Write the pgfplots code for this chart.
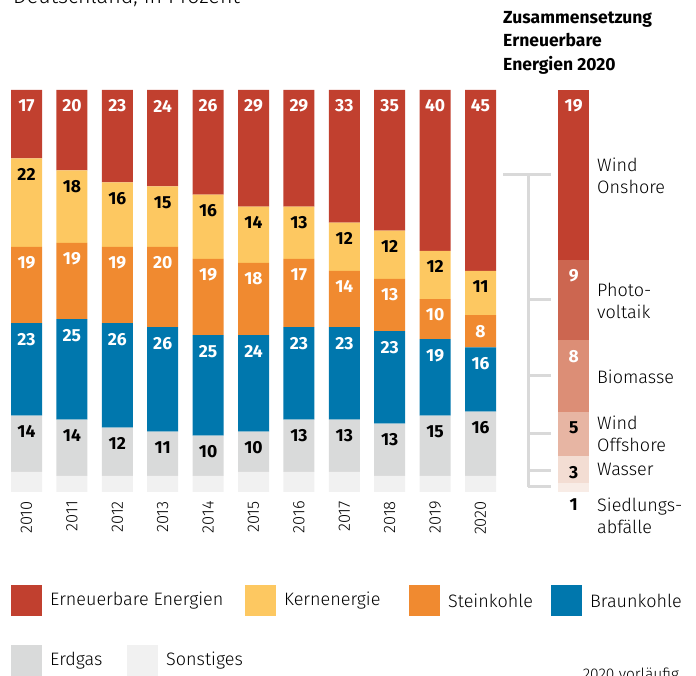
\documentclass[border=0pt]{standalone}
\usepackage{pgfplots}
\pgfplotsset{compat=1.18}
\usepackage{pgfplotstable}
\usepackage{fontspec}
\setmainfont{Fira Sans}[UprightFont=* Light, BoldFont=* Bold]
\definecolor{cee}{HTML}{C1402F}
\definecolor{ckern}{HTML}{FDC861}
\definecolor{cstein}{HTML}{F08A30}
\definecolor{cbraun}{HTML}{0077AD}
\definecolor{cgas}{HTML}{D9DADA}
\definecolor{csonst}{HTML}{F1F1F1}
\definecolor{rA}{HTML}{C1402F}
\definecolor{rB}{HTML}{CC6650}
\definecolor{rC}{HTML}{DC8E76}
\definecolor{rD}{HTML}{E7B5A3}
\definecolor{rE}{HTML}{F3DDD3}
\definecolor{rF}{HTML}{F8ECE6}
\definecolor{brk}{HTML}{D9D9D9}

\pgfplotstableread{
x ee kern stein braun erdgas sonst
0 17 22 19 23 14 5
1 20 18 19 25 14 4
2 23 16 19 26 12 4
3 24 15 20 26 11 4
4 26 16 19 25 10 4
5 29 14 18 24 10 5
6 29 13 17 23 13 5
7 33 12 14 23 13 5
8 35 12 13 23 13 4
9 40 12 10 19 15 4
10 45 11 8 16 16 4
}\mix

\pgfplotstableread{
x onshore pv bio offshore wasser abfall
0 19 9 8 5 3 1
}\ren

\newcommand{\lblfont}{\fontsize{17.5}{17.5}\selectfont\bfseries}
\newcommand{\txtfont}{\fontsize{18}{22}\selectfont}

\begin{document}
\begin{tikzpicture}[x=1pt,y=1pt]
\path[use as bounding box] (0,0) rectangle (696,675);
\clip (0,0) rectangle (696,675);

\pgfplotsset{
  barbase/.style={
    scale only axis, anchor=south west,
    height=402pt, ymin=0,
    ybar stacked,
    bar width=31pt,
    axis line style={draw=none},
    major tick length=0pt,
    ytick=\empty,
    point meta=explicit,
    /pgf/number format/assume math mode=true,
    nodes near coords align={anchor=center},
    every node near coord/.append style={font=\lblfont, inner sep=0pt},
    clip=false,
  },
  lblA/.style={nodes near coords,
    visualization depends on={rawy \as \rawy},
    every node near coord/.append style={text=#1, anchor=center, yshift={\rawy*2.01-16}}},
  lblB/.style={nodes near coords,
    visualization depends on={rawy \as \rawy},
    every node near coord/.append style={text=#1, anchor=center, yshift={\rawy*4.4667-16}}},
}

\begin{axis}[barbase,
  at={(3.8pt,183pt)}, width=499.4pt,
  xmin=-0.5, xmax=10.5, ymax=100,
  xtick={0,...,10},
  xticklabels={2010,2011,2012,2013,2014,2015,2016,2017,2018,2019,2020},
  xticklabel style={rotate=90, anchor=east, font=\fontsize{16.5}{16.5}\selectfont, inner ysep=0pt, inner xsep=9pt},
]
\addplot[fill=csonst, draw=none] table[x=x, y=sonst, meta=sonst] {\mix};
\addplot[fill=cgas, draw=none, lblA=black] table[x=x, y=erdgas, meta=erdgas] {\mix};
\addplot[fill=cbraun, draw=none, lblA=white] table[x=x, y=braun, meta=braun] {\mix};
\addplot[fill=cstein, draw=none, lblA=white] table[x=x, y=stein, meta=stein] {\mix};
\addplot[fill=ckern, draw=none, lblA=black] table[x=x, y=kern, meta=kern] {\mix};
\addplot[fill=cee, draw=none, lblA=white] table[x=x, y=ee, meta=ee] {\mix};
\end{axis}

\begin{axis}[barbase,
  at={(551pt,183pt)}, width=45.4pt,
  xmin=-0.5, xmax=0.5, ymax=45,
  xtick=\empty,
]
\addplot[fill=rF, draw=none, nodes near coords, every node near coord/.append style={text=black, anchor=center, yshift=-17.5}] table[x=x, y=abfall, meta=abfall] {\ren};
\addplot[fill=rE, draw=none, lblB=black] table[x=x, y=wasser, meta=wasser] {\ren};
\addplot[fill=rD, draw=none, lblB=black] table[x=x, y=offshore, meta=offshore] {\ren};
\addplot[fill=rC, draw=none, lblB=white] table[x=x, y=bio, meta=bio] {\ren};
\addplot[fill=rB, draw=none, lblB=white] table[x=x, y=pv, meta=pv] {\ren};
\addplot[fill=rA, draw=none, lblB=white] table[x=x, y=onshore, meta=onshore] {\ren};
\end{axis}

% bracket
\draw[brk, line width=3pt] (528,675-175) -- (528,675-487);
\draw[brk, line width=3pt] (503,675-175) -- (551,675-175);
\foreach \yy in {300,376,434,471,487} {\draw[brk, line width=3pt] (528,675-\yy) -- (551,675-\yy);}

% category names
\node[anchor=west, align=left, font=\txtfont, inner sep=0pt] at (597,675-176) {Wind\\Onshore};
\node[anchor=west, align=left, font=\txtfont, inner sep=0pt] at (597,675-301) {Photo-\\voltaik};
\node[anchor=west, align=left, font=\txtfont, inner sep=0pt] at (597,675-377) {Biomasse};
\node[anchor=west, align=left, font=\txtfont, inner sep=0pt] at (597,675-434) {Wind\\Offshore};
\node[anchor=west, align=left, font=\txtfont, inner sep=0pt] at (597,675-469) {Wasser};
\node[anchor=west, align=left, font=\txtfont, inner sep=0pt] at (597,675-516) {Siedlungs-\\abf\"alle};

% headers
\node[anchor=base west, font=\fontsize{21.5}{21.5}\selectfont, inner sep=0pt] at (13,671) {Deutschland, in Prozent};
\node[anchor=north west, align=left, font=\fontsize{17.5}{23.5}\selectfont\bfseries, inner sep=0pt] at (503,675-11) {Zusammensetzung\\Erneuerbare\\Energien 2020};

% legend
\foreach \c/\xx/\t in {cee/11/Erneuerbare Energien, ckern/245/Kernenergie, cstein/409/Steinkohle, cbraun/551/Braunkohle} {
  \fill[\c] (\xx,675-585) rectangle ++(31,-31);
  \node[anchor=west, font=\txtfont, inner sep=0pt] at (\xx+39,675-601) {\t};
}
\foreach \c/\xx/\t in {cgas/11/Erdgas, csonst/127/Sonstiges} {
  \fill[\c] (\xx,675-645) rectangle ++(31,-31);
  \node[anchor=west, font=\txtfont, inner sep=0pt] at (\xx+39,675-661) {\t};
}
\node[anchor=base east, font=\fontsize{15.5}{15.5}\selectfont, inner sep=0pt] at (679,-4) {2020 vorl\"aufig};
\end{tikzpicture}
\end{document}
